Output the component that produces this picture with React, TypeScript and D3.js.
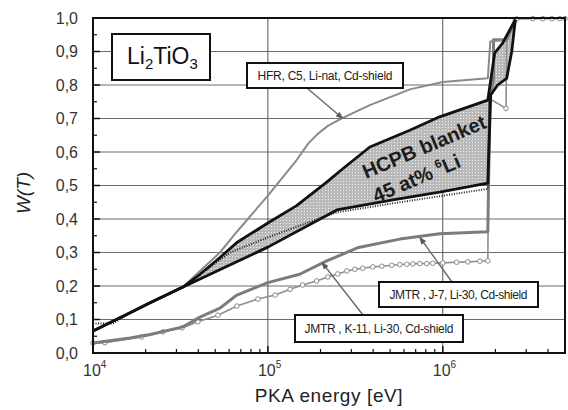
import React from 'react';
import * as d3 from 'd3';

// Axis setup
const energyDomain = [1e4, 5e6];
const wDomain = [0, 1];
const yTickValues = [0, 0.1, 0.2, 0.3, 0.4, 0.5, 0.6, 0.7, 0.8, 0.9, 1.0];
const xTickDecades = [1e4, 1e5, 1e6];
const xTickExponents = ['4', '5', '6'];

// W(T) vs PKA energy [eV, W]
const hfrC5 = [
  [1e4, 0.066], [1.63e4, 0.12], [2.12e4, 0.15], [3.27e4, 0.197], [4.09e4, 0.245],
  [5.32e4, 0.3], [6.65e4, 0.362], [1e5, 0.47], [1.46e5, 0.576], [1.7e5, 0.625],
  [1.91e5, 0.652], [2.2e5, 0.678], [2.68e5, 0.702], [3.83e5, 0.74], [6.48e5, 0.787],
  [1e6, 0.809], [1.81e6, 0.82], [1.87e6, 0.93], [2.3e6, 0.935], [2.6e6, 0.995],
];

const hcpbUpper = [
  [1e4, 0.066], [1.63e4, 0.12], [2.12e4, 0.15], [3.27e4, 0.197], [4.09e4, 0.235],
  [5.32e4, 0.285], [6.65e4, 0.33], [1e5, 0.388], [1.46e5, 0.44], [2.17e5, 0.51],
  [2.68e5, 0.55], [3.83e5, 0.615], [6.48e5, 0.665], [9.6e5, 0.705], [1.81e6, 0.755],
  [1.98e6, 0.895], [2.2e6, 0.925], [2.6e6, 0.995],
];

const hcpbLower = [
  [1e4, 0.066], [1.63e4, 0.12], [2.12e4, 0.15], [3.27e4, 0.197], [1e5, 0.316],
  [2.48e5, 0.427], [5.18e5, 0.457], [9.6e5, 0.48], [1.81e6, 0.507], [1.88e6, 0.77],
  [2.06e6, 0.8], [2.32e6, 0.82], [2.48e6, 0.9], [2.6e6, 0.995],
];

const hcpbDotted = [
  [1e4, 0.088], [1.3e4, 0.088], [1.63e4, 0.12], [3.27e4, 0.197], [6.07e4, 0.3],
  [1e5, 0.345], [1.67e5, 0.388], [2.48e5, 0.42], [5.68e5, 0.45], [1.81e6, 0.49],
  [1.84e6, 0.755],
];

const jmtrJ7 = [
  [1e4, 0.03], [1.63e4, 0.045], [2.12e4, 0.055], [3.27e4, 0.078], [4.09e4, 0.107],
  [5.32e4, 0.134], [6.65e4, 0.173], [1e5, 0.21], [1.52e5, 0.235], [2.17e5, 0.275],
  [3.3e5, 0.315], [5.68e5, 0.34], [9.6e5, 0.356], [1.81e6, 0.362], [1.86e6, 0.76],
  [1.95e6, 0.82], [1.95e6, 0.935], [2.32e6, 0.935], [2.6e6, 0.995],
];

const jmtrK11 = [
  [1e4, 0.03], [1.17e4, 0.031], [1.9e4, 0.048], [2.51e4, 0.063], [3.23e4, 0.075],
  [3.98e4, 0.093], [5.18e4, 0.113], [6.65e4, 0.14], [8.77e4, 0.161], [1.1e5, 0.173],
  [1.34e5, 0.19], [1.58e5, 0.203], [1.9e5, 0.215], [2.2e5, 0.227], [2.51e5, 0.236],
  [2.83e5, 0.245], [3.14e5, 0.25], [3.49e5, 0.253], [3.98e5, 0.257], [4.48e5, 0.259],
  [5.11e5, 0.262], [5.68e5, 0.264], [6.23e5, 0.265], [6.74e5, 0.266], [7.39e5, 0.267],
  [8.1e5, 0.267], [8.77e5, 0.268], [1e6, 0.269], [1.2e6, 0.271], [1.39e6, 0.272],
  [1.63e6, 0.274], [1.81e6, 0.275], [1.84e6, 0.76], [2.3e6, 0.73], [2.32e6, 0.93],
  [2.6e6, 0.995], [2.65e6, 0.997], [3.27e6, 0.998], [3.73e6, 0.998], [4.2e6, 0.998],
  [4.66e6, 0.998], [5e6, 0.998],
];

// callout arrow tips, in data units [E, W]
const hfrTip = [2.68e5, 0.7];
const j7Tip = [7.39e5, 0.345];
const k11Tip = [2.04e5, 0.27];

const FONT = 'Liberation Sans, Arial, Helvetica, sans-serif';

export default function App() {
  const left = 93, right = 565, top = 18, bottom = 353;
  const x = d3.scaleLog().domain(energyDomain).range([left, right]);
  const y = d3.scaleLinear().domain(wDomain).range([bottom, top]);
  const line = d3.line<number[]>().x(d => x(d[0])).y(d => y(d[1]));
  const fmt = (v: number) => d3.format('.1f')(v).replace('.', ',');

  const minorX: number[] = [];
  xTickDecades.forEach(d => {
    for (let k = 2; k <= 9; k++) if (d * k < energyDomain[1]) minorX.push(d * k);
  });
  const minorY = d3.range(0.05, 1, 0.1);

  const bandStart = 3.27e4;
  const bandPts = [
    ...hcpbUpper.filter(d => d[0] >= bandStart),
    ...hcpbLower.filter(d => d[0] >= bandStart).reverse(),
  ];
  const bandPath = line(bandPts) + 'Z';

  const k11Markers = jmtrK11.filter(
    ([e, w]) => !(e > 1.82e6 && e < 2.59e6 && w > 0.74)
  );

  const callout = (
    bx: number, by: number, bw: number, bh: number, label: string,
    textLen: number, ax: number, ay: number, tip: number[]
  ) => (
    <g>
      <line x1={ax} y1={ay} x2={x(tip[0])} y2={y(tip[1])} stroke="#6a6a6a" strokeWidth={1.4}
        markerEnd="url(#arrow)" />
      <rect x={bx} y={by} width={bw} height={bh} fill="#fff" stroke="#111" strokeWidth={2} />
      <text x={bx + bw / 2} y={by + bh / 2 + 4.5} textAnchor="middle" fontFamily={FONT}
        fontSize={12} fill="#222" textLength={textLen} lengthAdjust="spacing">{label}</text>
    </g>
  );

  return (
    <svg width={568} height={410} style={{ position: 'absolute', left: 0, top: 0, background: '#fff' }}>
      <defs>
        <pattern id="dots" width={3} height={3} patternUnits="userSpaceOnUse">
          <rect width={3} height={3} fill="#b9b9b9" />
          <rect x={1} y={1} width={1} height={1} fill="#eeeeee" />
        </pattern>
        <marker id="arrow" viewBox="0 0 10 8" refX={9} refY={4} markerWidth={8} markerHeight={6}
          markerUnits="userSpaceOnUse" orient="auto">
          <path d="M0,0 L10,4 L0,8 Z" fill="#5a5a5a" />
        </marker>
      </defs>

      {/* grid */}
      {yTickValues.filter(v => v > 0 && v < 1).map(v => (
        <line key={'gy' + v} x1={left} x2={right} y1={y(v)} y2={y(v)} stroke="#6c6c6c" strokeWidth={1} />
      ))}
      {xTickDecades.filter(v => v > energyDomain[0]).map(v => (
        <line key={'gx' + v} x1={x(v)} x2={x(v)} y1={top} y2={bottom} stroke="#555" strokeWidth={1} />
      ))}

      {/* HCPB band */}
      <path d={bandPath} fill="url(#dots)" stroke="none" />

      {/* JMTR K-11 */}
      <path d={line(jmtrK11) || ''} fill="none" stroke="#8e8e8e" strokeWidth={1.6} />
      {k11Markers.map((d, i) => (
        <circle key={'k' + i} cx={x(d[0])} cy={y(d[1])} r={2.3} fill="#fff" stroke="#8a8a8a" strokeWidth={1} />
      ))}

      {/* JMTR J-7 */}
      <path d={line(jmtrJ7) || ''} fill="none" stroke="#7c7c7c" strokeWidth={3} strokeLinejoin="round" />

      {/* HFR */}
      <path d={line(hfrC5) || ''} fill="none" stroke="#8a8a8a" strokeWidth={2} strokeLinejoin="round" />

      {/* HCPB boundaries */}
      <path d={line(hcpbDotted) || ''} fill="none" stroke="#222" strokeWidth={2} strokeDasharray="1 1.5" />
      <path d={line(hcpbLower) || ''} fill="none" stroke="#111" strokeWidth={2.8} strokeLinejoin="round" />
      <path d={line(hcpbUpper) || ''} fill="none" stroke="#111" strokeWidth={2.8} strokeLinejoin="round" />

      {/* callouts */}
      {callout(247, 63, 156, 25, 'HFR, C5, Li-nat, Cd-shield', 135, 307, 88, hfrTip)}
      {callout(379, 282, 159, 25, 'JMTR , J-7, Li-30, Cd-shield', 138, 452, 282, j7Tip)}
      {callout(295, 315, 168, 27, 'JMTR , K-11, Li-30, Cd-shield', 149, 363, 315, k11Tip)}

      {/* material label */}
      <rect x={112} y={34} width={98} height={46} fill="#fff" stroke="#111" strokeWidth={2} />
      <text x={127} y={64} fontFamily={FONT} fontSize={23} fill="#111">
        Li<tspan fontSize={15} dy={5}>2</tspan><tspan dy={-5}>TiO</tspan><tspan fontSize={15} dy={5}>3</tspan>
      </text>

      {/* HCPB label */}
      <g transform="translate(366,179) rotate(-23)" fontFamily={FONT} fontWeight="bold" fontSize={20} fill="#1c1c1c">
        <text x={0} y={0}>HCPB blanket</text>
        <text x={0} y={26}>45 at% <tspan fontSize={12} dy={-8}>6</tspan><tspan dy={8}>Li</tspan></text>
      </g>

      {/* ticks */}
      {yTickValues.map(v => (
        <line key={'ty' + v} x1={left} x2={left + 7} y1={y(v)} y2={y(v)} stroke="#111" strokeWidth={1.5} />
      ))}
      {minorY.map(v => (
        <line key={'tym' + v} x1={left} x2={left + 4} y1={y(v)} y2={y(v)} stroke="#111" strokeWidth={1.2} />
      ))}
      {xTickDecades.map(v => (
        <line key={'tx' + v} x1={x(v)} x2={x(v)} y1={bottom} y2={bottom - 7} stroke="#111" strokeWidth={1.5} />
      ))}
      {minorX.map(v => (
        <line key={'txm' + v} x1={x(v)} x2={x(v)} y1={bottom} y2={bottom - 4} stroke="#111" strokeWidth={1.2} />
      ))}

      {/* frame */}
      <rect x={left} y={top} width={right - left} height={bottom - top} fill="none" stroke="#111" strokeWidth={2} />

      {/* tick labels */}
      {yTickValues.map(v => (
        <text key={'ly' + v} x={78} y={y(v)} dy="0.36em" textAnchor="end" fontFamily={FONT} fontSize={16} fill="#333">
          {fmt(v)}
        </text>
      ))}
      {xTickDecades.map((v, i) => (
        <text key={'lx' + v} x={x(v) - 10} y={376} fontFamily={FONT} fontSize={16} fill="#333">
          10<tspan fontSize={10} dy={-8}>{xTickExponents[i]}</tspan>
        </text>
      ))}

      {/* axis titles */}
      <text x={329} y={402} textAnchor="middle" fontFamily={FONT} fontSize={19} letterSpacing={0.6} fill="#222">
        PKA energy [eV]
      </text>
      <text transform="translate(30,193) rotate(-90)" textAnchor="middle" fontFamily={FONT} fontSize={19}
        fontStyle="italic" fill="#222">W(T)</text>
    </svg>
  );
}
